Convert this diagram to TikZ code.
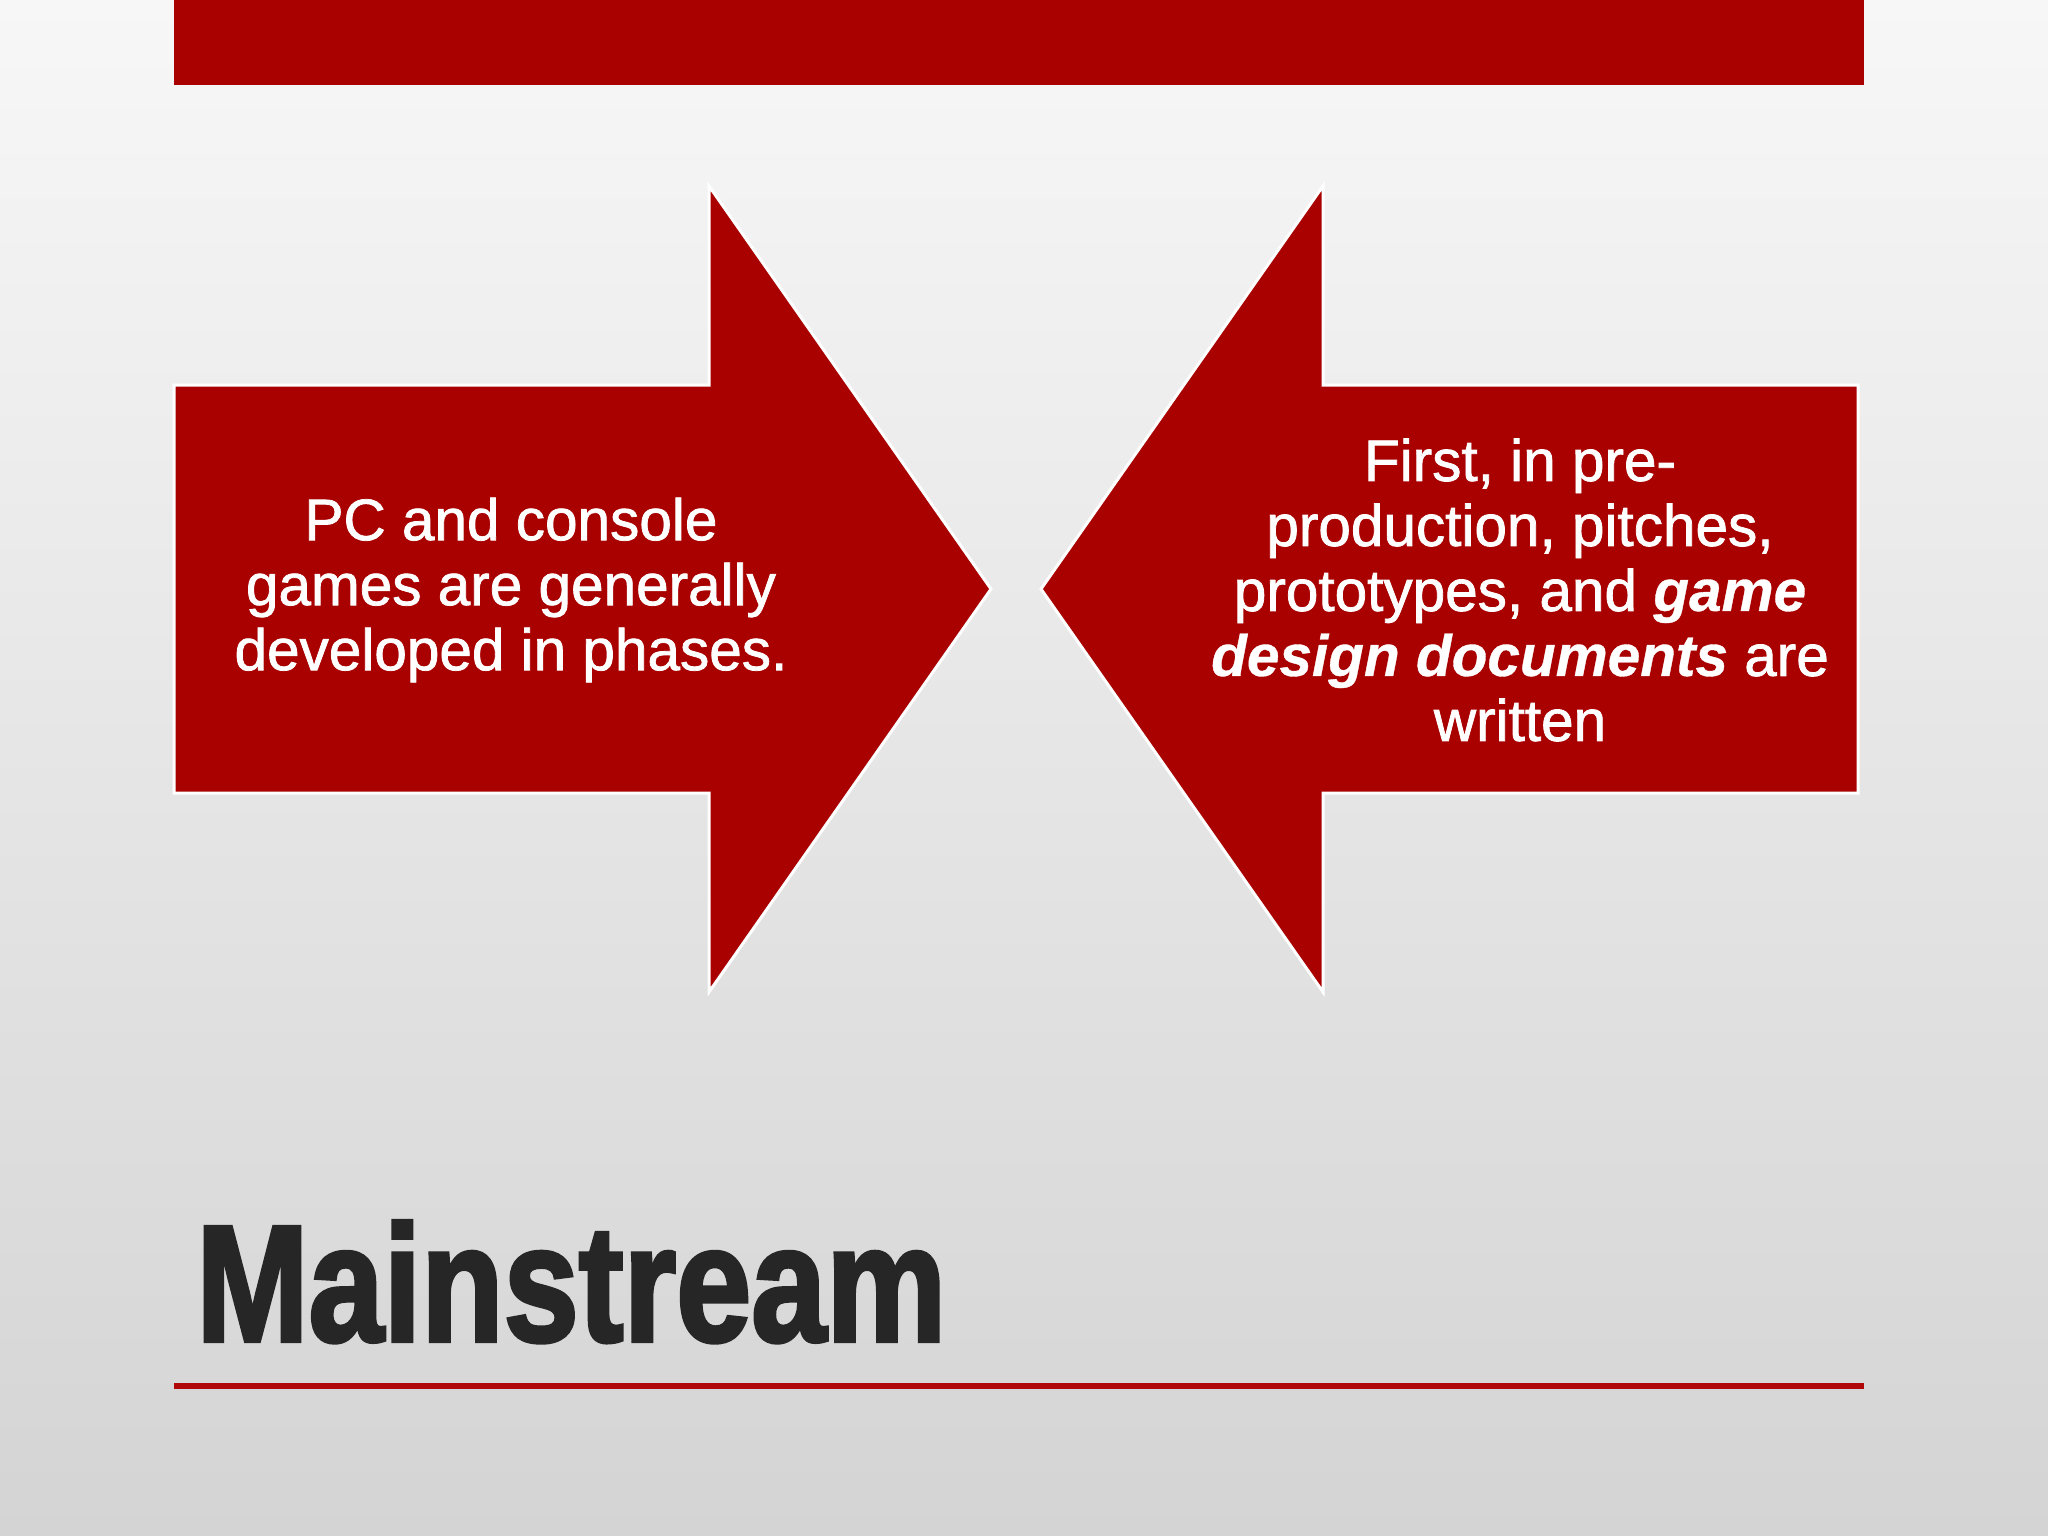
\documentclass[tikz,border=0pt]{standalone}
\usepackage{fontspec}
\setmainfont{Liberation Sans}
\newfontfamily\bodyfont{Liberation Sans}[FakeBold=1.3, BoldFeatures={FakeBold=0.6}, BoldItalicFeatures={FakeBold=0.6}]
\newfontfamily\headfont{Liberation Sans}[BoldFeatures={FakeBold=2.5}]
\definecolor{slidered}{RGB}{169,0,0}
\definecolor{linered}{RGB}{176,8,8}
\definecolor{bgtop}{RGB}{247,247,247}
\definecolor{bgbot}{RGB}{212,212,212}
\definecolor{titlegray}{RGB}{38,38,38}
\tikzset{
  arrowshape/.style={fill=slidered, draw=white, line width=3pt, line join=miter},
  arrowtext/.style={text=white, align=center, inner sep=0pt, font=\bodyfont\fontsize{58.5}{65}\selectfont},
}
\begin{document}
\begin{tikzpicture}[x=1pt,y=-1pt]
\useasboundingbox (0,0) rectangle (2048,1536);
\shade[top color=bgtop, bottom color=bgbot] (0,0) rectangle (2048,1536);
% top bar
\fill[slidered] (174,0) rectangle (1864,85);
% left arrow
\draw[arrowshape] (174,385) -- (709,385) -- (709,186) -- (991,589) -- (709,992) -- (709,793) -- (174,793) -- cycle;
% right arrow
\draw[arrowshape] (1858,385) -- (1323,385) -- (1323,186) -- (1041,589) -- (1323,992) -- (1323,793) -- (1858,793) -- cycle;
\node[arrowtext] (lefttext) at (511,590) {PC and console\\games are generally\\developed in phases.};
\node[arrowtext] (righttext) at (1520,590) {First, in pre-\\production, pitches,\\prototypes, and \textbf{\textit{game}}\\\textbf{\textit{design documents}} are\\written};
% title
\node[anchor=base west, inner sep=0pt, text=titlegray] (title) at (196,1341) {\resizebox{750pt}{120pt}{\headfont\bfseries Mainstream}};
% underline
\coordinate (ulstart) at (174,1385.5);
\coordinate (ulend) at (1864,1385.5);
\draw[linered, line width=6pt] (ulstart) -- (ulend);
\end{tikzpicture}
\end{document}
